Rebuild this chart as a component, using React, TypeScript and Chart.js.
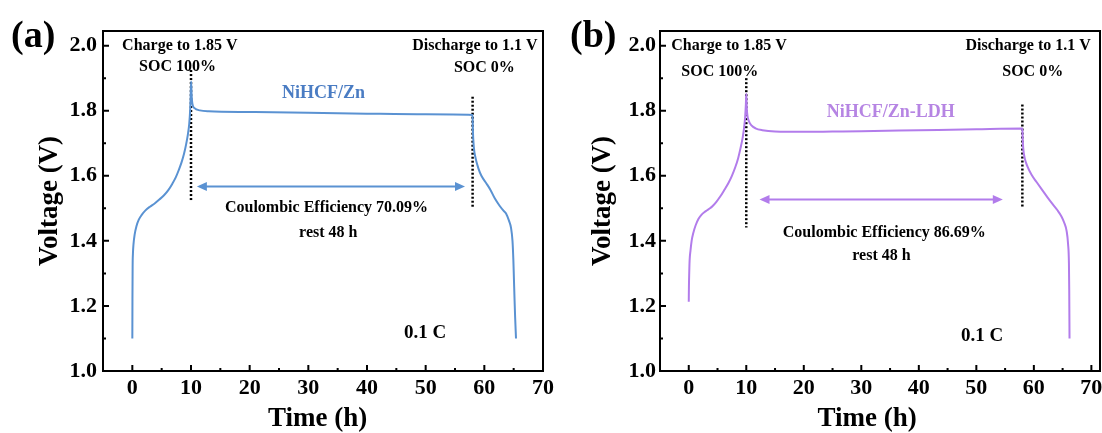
import React, { useEffect, useRef } from 'react';
import { Chart, registerables } from 'chart.js';

Chart.register(...registerables);

// ---------- shared axis data ----------
const X_TICKS = [0, 10, 20, 30, 40, 50, 60, 70];
const X_MINOR = [5, 15, 25, 35, 45, 55, 65];
const Y_TICKS = [1.0, 1.2, 1.4, 1.6, 1.8, 2.0];
const Y_MINOR = [1.1, 1.3, 1.5, 1.7, 1.9];
const X_TITLE = 'Time (h)';
const Y_TITLE = 'Voltage (V)';

// ---------- panel (a) NiHCF/Zn ----------
const A_TIME = [0, 0.02, 0.05, 0.1, 0.2, 0.4, 0.7, 1.1, 1.6, 2.2, 3.0, 3.8, 4.6, 5.4, 6.1, 6.8, 7.4, 7.9, 8.4, 8.8, 9.15, 9.45, 9.7, 9.85, 9.95, 10.02, 10.1, 10.25, 10.6, 11.5, 13, 20, 30, 40, 50, 58, 58.05, 58.2, 58.5, 59.0, 59.5, 60.3, 61.0, 61.8, 62.6, 63.3, 63.7, 64.2, 64.55, 64.8, 64.95, 65.05, 65.15, 65.25, 65.4];
const A_VOLT = [1.10, 1.22, 1.32, 1.36, 1.39, 1.42, 1.445, 1.465, 1.48, 1.493, 1.505, 1.515, 1.527, 1.54, 1.555, 1.575, 1.595, 1.617, 1.642, 1.667, 1.695, 1.725, 1.76, 1.80, 1.85, 1.89, 1.85, 1.82, 1.808, 1.801, 1.798, 1.796, 1.794, 1.791, 1.789, 1.787, 1.74, 1.69, 1.655, 1.622, 1.60, 1.578, 1.558, 1.53, 1.508, 1.492, 1.484, 1.462, 1.44, 1.40, 1.34, 1.28, 1.22, 1.165, 1.10];
const A_MARK_T = [10, 58];
const A_MARK_TOP = [1.925, 1.843];
const A_MARK_BOT = [1.52, 1.50];
const A_ARROW_T = [11.0, 56.7];
const A_ARROW_V = 1.567;
const A_NOTE_TEXT = ['Charge to 1.85 V', 'SOC 100%', 'Discharge to 1.1 V', 'SOC 0%', 'Coulombic Efficiency 70.09%', 'rest 48 h'];
const A_NOTE_T = [8.1, 7.7, 58.4, 60.0, 33.1, 33.4];
const A_NOTE_V = [2.0, 1.934, 2.0, 1.932, 1.50, 1.426];
const A_NAME = 'NiHCF/Zn';
const A_NAME_POS = [32.6, 1.852];
const A_RATE_POS = [49.9, 1.116];
const A_XTITLE_T = 31.6;

// ---------- panel (b) NiHCF/Zn-LDH ----------
const B_TIME = [0, 0.03, 0.08, 0.15, 0.3, 0.5, 0.8, 1.2, 1.7, 2.2, 2.7, 3.2, 3.7, 4.2, 4.8, 5.5, 6.2, 6.9, 7.5, 8.1, 8.6, 9.0, 9.35, 9.6, 9.8, 9.93, 10.0, 10.08, 10.2, 10.45, 10.9, 11.6, 12.8, 15, 20, 25, 30, 40, 50, 58, 58.05, 58.15, 58.4, 58.9, 59.6, 60.5, 61.5, 62.4, 63.3, 64.1, 64.8, 65.3, 65.7, 65.95, 66.1, 66.15, 66.2];
const B_VOLT = [1.213, 1.26, 1.30, 1.34, 1.37, 1.40, 1.425, 1.448, 1.468, 1.48, 1.488, 1.494, 1.50, 1.508, 1.52, 1.537, 1.557, 1.578, 1.60, 1.627, 1.655, 1.685, 1.715, 1.745, 1.78, 1.82, 1.852, 1.81, 1.785, 1.768, 1.755, 1.746, 1.74, 1.736, 1.735, 1.736, 1.737, 1.74, 1.743, 1.745, 1.72, 1.685, 1.655, 1.628, 1.603, 1.58, 1.555, 1.533, 1.512, 1.494, 1.475, 1.455, 1.43, 1.39, 1.33, 1.25, 1.10];
const B_MARK_T = [10, 58];
const B_MARK_TOP = [1.90, 1.819];
const B_MARK_BOT = [1.441, 1.50];
const B_ARROW_T = [12.3, 54.6];
const B_ARROW_V = 1.527;
const B_NOTE_TEXT = ['Charge to 1.85 V', 'SOC 100%', 'Discharge to 1.1 V', 'SOC 0%', 'Coulombic Efficiency 86.69%', 'rest 48 h'];
const B_NOTE_T = [7.0, 5.4, 59.0, 59.8, 34.0, 33.5];
const B_NOTE_V = [1.998, 1.92, 1.998, 1.918, 1.426, 1.354];
const B_NAME = 'NiHCF/Zn-LDH';
const B_NAME_POS = [35.1, 1.795];
const B_RATE_POS = [51.0, 1.108];
const B_XTITLE_T = 31.0;

const RATE_TEXT = '0.1 C';
const FONT = "'Times New Roman', 'Liberation Serif', serif";

type PanelCfg = {
  tag: string;
  time: number[];
  volt: number[];
  markT: number[];
  markTop: number[];
  markBot: number[];
  arrowT: number[];
  arrowV: number;
  noteText: string[];
  noteT: number[];
  noteV: number[];
  name: string;
  namePos: number[];
  ratePos: number[];
  xTitleT: number;
  lineColor: string;
  textColor: string;
  xMax: number;
  yAxisWidth: number;
  width: number;
  left: number;
  rightPad: number;
  yTitlePad: number;
  yTickPad: number;
  tagX: number;
};

function Panel({ cfg }: { cfg: PanelCfg }) {
  const ref = useRef<HTMLCanvasElement>(null);

  useEffect(() => {
    const decor = {
      id: 'decor',
      afterDatasetsDraw(chart: any) {
        const { ctx, chartArea, scales } = chart;
        const { left, right, top, bottom } = chartArea;
        const x = scales.x;
        const y = scales.y;
        ctx.save();
        // arrow heads
        ctx.fillStyle = cfg.lineColor;
        const ay = y.getPixelForValue(cfg.arrowV);
        const ax0 = x.getPixelForValue(cfg.arrowT[0]);
        const ax1 = x.getPixelForValue(cfg.arrowT[1]);
        ctx.beginPath();
        ctx.moveTo(ax0, ay);
        ctx.lineTo(ax0 + 10, ay - 4.5);
        ctx.lineTo(ax0 + 10, ay + 4.5);
        ctx.closePath();
        ctx.fill();
        ctx.beginPath();
        ctx.moveTo(ax1, ay);
        ctx.lineTo(ax1 - 10, ay - 4.5);
        ctx.lineTo(ax1 - 10, ay + 4.5);
        ctx.closePath();
        ctx.fill();

        // annotations
        ctx.textAlign = 'center';
        ctx.textBaseline = 'middle';
        ctx.fillStyle = '#000';
        ctx.font = `bold 16px ${FONT}`;
        cfg.noteText.forEach((t, i) => {
          ctx.fillText(t, x.getPixelForValue(cfg.noteT[i]), y.getPixelForValue(cfg.noteV[i]));
        });
        ctx.font = `bold 19px ${FONT}`;
        ctx.fillText(RATE_TEXT, x.getPixelForValue(cfg.ratePos[0]), y.getPixelForValue(cfg.ratePos[1]));
        ctx.fillStyle = cfg.textColor;
        ctx.font = `bold 18px ${FONT}`;
        ctx.fillText(cfg.name, x.getPixelForValue(cfg.namePos[0]), y.getPixelForValue(cfg.namePos[1]));

        // frame
        ctx.strokeStyle = '#000';
        ctx.lineWidth = 2;
        ctx.strokeRect(left, top, right - left, bottom - top);
        // inward ticks
        ctx.beginPath();
        X_TICKS.forEach((v) => {
          const px = x.getPixelForValue(v);
          ctx.moveTo(px, bottom);
          ctx.lineTo(px, bottom - 6);
        });
        X_MINOR.forEach((v) => {
          const px = x.getPixelForValue(v);
          ctx.moveTo(px, bottom);
          ctx.lineTo(px, bottom - 3);
        });
        Y_TICKS.forEach((v) => {
          const py = y.getPixelForValue(v);
          ctx.moveTo(left, py);
          ctx.lineTo(left + 6, py);
        });
        Y_MINOR.forEach((v) => {
          const py = y.getPixelForValue(v);
          ctx.moveTo(left, py);
          ctx.lineTo(left + 3, py);
        });
        ctx.stroke();
        ctx.restore();
      },
      afterDraw(chart: any) {
        const { ctx, scales } = chart;
        ctx.save();
        ctx.fillStyle = '#000';
        ctx.font = `bold 38px ${FONT}`;
        ctx.textAlign = 'left';
        ctx.textBaseline = 'middle';
        ctx.fillText(cfg.tag, cfg.tagX, 37);
        // x axis title
        ctx.font = `bold 27px ${FONT}`;
        ctx.textAlign = 'center';
        ctx.fillText(X_TITLE, scales.x.getPixelForValue(cfg.xTitleT), scales.x.bottom - 14);
        ctx.restore();
      },
    };

    const markerSets = cfg.markT.map((t, i) => ({
      data: [
        { x: t, y: cfg.markTop[i] },
        { x: t, y: cfg.markBot[i] },
      ],
      borderColor: '#000',
      borderWidth: 2.5,
      borderDash: [2, 2],
      pointRadius: 0,
    }));

    const chart = new Chart(ref.current as HTMLCanvasElement, {
      type: 'line',
      data: {
        datasets: [
          {
            data: cfg.time.map((t, i) => ({ x: t, y: cfg.volt[i] })),
            borderColor: cfg.lineColor,
            borderWidth: 2,
            pointRadius: 0,
            cubicInterpolationMode: 'monotone',
          },
          ...markerSets,
          {
            data: [
              { x: cfg.arrowT[0] + 1, y: cfg.arrowV },
              { x: cfg.arrowT[1] - 1, y: cfg.arrowV },
            ],
            borderColor: cfg.lineColor,
            borderWidth: 2,
            pointRadius: 0,
          },
        ] as any,
      },
      options: {
        responsive: false,
        animation: false,
        events: [],
        layout: { padding: { left: 0, top: 31, right: cfg.rightPad, bottom: 0 } },
        plugins: { legend: { display: false }, tooltip: { enabled: false } },
        scales: {
          x: {
            type: 'linear',
            min: -5,
            max: cfg.xMax,
            afterBuildTicks: (s: any) => {
              s.ticks = X_TICKS.map((v) => ({ value: v }));
            },
            afterFit: (s: any) => {
              s.height = 62;
              s.paddingLeft = 0;
              s.paddingRight = 0;
            },
            grid: { display: false, drawTicks: false },
            border: { display: false },
            ticks: {
              color: '#000',
              padding: 4,
              font: { family: FONT, size: 22, weight: 'bold' },
              callback: (v: any) => String(v),
            },
            title: { display: false },
          },
          y: {
            type: 'linear',
            min: 1.0,
            max: 2.045,
            afterBuildTicks: (s: any) => {
              s.ticks = Y_TICKS.map((v) => ({ value: v }));
            },
            afterFit: (s: any) => {
              s.width = cfg.yAxisWidth;
              s.paddingTop = 0;
              s.paddingBottom = 0;
            },
            grid: { display: false, drawTicks: false },
            border: { display: false },
            ticks: {
              color: '#000',
              padding: cfg.yTickPad,
              font: { family: FONT, size: 22, weight: 'bold' },
              callback: (v: any) => Number(v).toFixed(1),
            },
            title: {
              display: true,
              text: Y_TITLE,
              color: '#000',
              font: { family: FONT, size: 27, weight: 'bold', lineHeight: 1 },
              padding: { top: cfg.yTitlePad, bottom: 0 },
            },
          },
        },
      } as any,
      plugins: [decor],
    });
    return () => chart.destroy();
  }, []);

  return (
    <canvas
      ref={ref}
      width={cfg.width}
      height={433}
      style={{ display: 'block', position: 'absolute', left: cfg.left, top: 0 }}
    />
  );
}

const PANEL_A: PanelCfg = {
  tag: '(a)',
  time: A_TIME,
  volt: A_VOLT,
  markT: A_MARK_T,
  markTop: A_MARK_TOP,
  markBot: A_MARK_BOT,
  arrowT: A_ARROW_T,
  arrowV: A_ARROW_V,
  noteText: A_NOTE_TEXT,
  noteT: A_NOTE_T,
  noteV: A_NOTE_V,
  name: A_NAME,
  namePos: A_NAME_POS,
  ratePos: A_RATE_POS,
  xTitleT: A_XTITLE_T,
  lineColor: '#5A92D2',
  textColor: '#4A7CC3',
  xMax: 70,
  yAxisWidth: 103,
  width: 562,
  left: 0,
  rightPad: 19,
  yTitlePad: 37,
  yTickPad: 6,
  tagX: 11,
};

const PANEL_B: PanelCfg = {
  tag: '(b)',
  time: B_TIME,
  volt: B_VOLT,
  markT: B_MARK_T,
  markTop: B_MARK_TOP,
  markBot: B_MARK_BOT,
  arrowT: B_ARROW_T,
  arrowV: B_ARROW_V,
  noteText: B_NOTE_TEXT,
  noteT: B_NOTE_T,
  noteV: B_NOTE_V,
  name: B_NAME,
  namePos: B_NAME_POS,
  ratePos: B_RATE_POS,
  xTitleT: B_XTITLE_T,
  lineColor: '#B27CEB',
  textColor: '#B685E3',
  xMax: 71.5,
  yAxisWidth: 109,
  width: 551,
  left: 551,
  rightPad: 2,
  yTitlePad: 39,
  yTickPad: 4,
  tagX: 19,
};

export default function App() {
  useEffect(() => {
    document.body.style.margin = '0';
    document.body.style.background = '#fff';
  }, []);
  return (
    <div style={{ position: 'relative', width: 1102, height: 433, background: '#fff' }}>
      <Panel cfg={PANEL_A} />
      <Panel cfg={PANEL_B} />
    </div>
  );
}
